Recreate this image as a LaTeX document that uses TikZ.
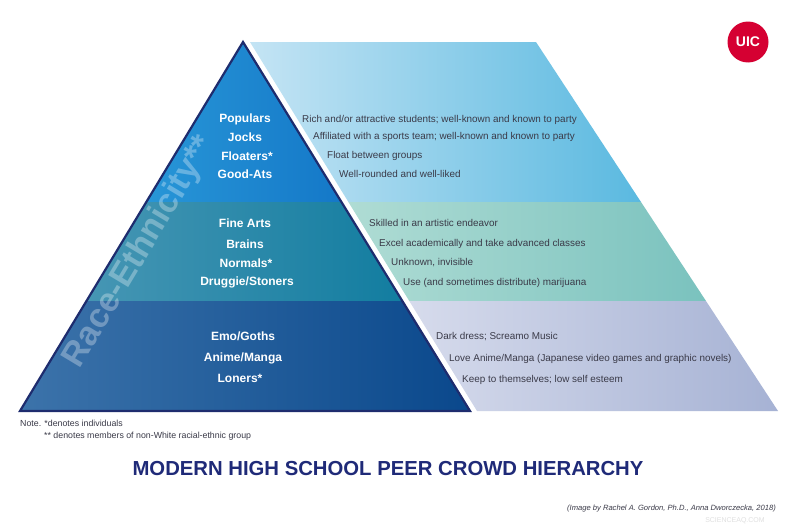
\documentclass[tikz,border=0pt]{standalone}
\usepackage{fontspec}
\setmainfont{Liberation Sans}
\definecolor{navy}{HTML}{1F2A78}
\definecolor{tri}{HTML}{1E2C6E}
\definecolor{lab}{HTML}{3A3A48}
\begin{document}
\begin{tikzpicture}[x=1pt,y=-1pt,
  crowd/.style={font=\bfseries\fontsize{12}{14}\selectfont, text=white, anchor=center},
  desc/.style={font=\fontsize{9.9}{11}\selectfont, text=lab, anchor=west, inner sep=0pt},
  note/.style={font=\fontsize{8.8}{10}\selectfont, text=lab, anchor=west, inner sep=0pt}]
\useasboundingbox (0,0) rectangle (800,530);
\fill[white] (0,0) rectangle (800,530);
% right trapezoid bands
\shade[left color={rgb,255:red,196;green,228;blue,244}, right color={rgb,255:red,90;green,185;blue,224}]
  (250,42) -- (536,42) -- (641,202) -- (348.4,202) -- cycle;
\shade[left color={rgb,255:red,175;green,220;blue,212}, right color={rgb,255:red,122;green,194;blue,190}]
  (348.4,202) -- (641,202) -- (706,301) -- (409.3,301) -- cycle;
\shade[left color={rgb,255:red,214;green,219;blue,236}, right color={rgb,255:red,166;green,178;blue,212}]
  (409.3,301) -- (706,301) -- (778,411) -- (477,411) -- cycle;
% triangle bands
\shade[left color={rgb,255:red,40;green,150;blue,215}, right color={rgb,255:red,20;green,120;blue,200}]
  (243,42) -- (341.4,202) -- (146.3,202) -- cycle;
\shade[left color={rgb,255:red,70;green,150;blue,180}, right color={rgb,255:red,18;green,125;blue,160}]
  (146.3,202) -- (341.4,202) -- (402.3,301) -- (86.5,301) -- cycle;
\shade[left color={rgb,255:red,60;green,115;blue,170}, right color={rgb,255:red,10;green,72;blue,140}]
  (86.5,301) -- (402.3,301) -- (470,411) -- (20,411) -- cycle;
\draw[tri, line width=2.2pt, line join=miter] (243,42) -- (470,411) -- (20,411) -- cycle;
% watermark text
\node[rotate=59, text=white, opacity=0.3, font=\bfseries\fontsize{34}{36}\selectfont] (race) at (140,252) {Race-Ethnicity**};
% crowds
\node[crowd] (pop) at (245,119) {Populars};
\node[crowd] (joc) at (245,137) {Jocks};
\node[crowd] (flo) at (247,156) {Floaters*};
\node[crowd] (goo) at (245,174) {Good-Ats};
\node[crowd] (fin) at (245,223) {Fine Arts};
\node[crowd] (bra) at (245,244) {Brains};
\node[crowd] (nor) at (246,263) {Normals*};
\node[crowd] (dru) at (247,282) {Druggie/Stoners};
\node[crowd] (emo) at (243,336) {Emo/Goths};
\node[crowd] (ani) at (243,358) {Anime/Manga};
\node[crowd] (lon) at (240,378) {Loners*};
% descriptions
\node[desc] (d1) at (302,120) {Rich and/or attractive students; well-known and known to party};
\node[desc] (d2) at (313,137) {Affiliated with a sports team; well-known and known to party};
\node[desc] (d3) at (327,156) {Float between groups};
\node[desc] (d4) at (339,174) {Well-rounded and well-liked};
\node[desc] (d5) at (369,223) {Skilled in an artistic endeavor};
\node[desc] (d6) at (379,244) {Excel academically and take advanced classes};
\node[desc] (d7) at (391,263) {Unknown, invisible};
\node[desc] (d8) at (403,283) {Use (and sometimes distribute) marijuana};
\node[desc] (d9) at (436,337) {Dark dress; Screamo Music};
\node[desc] (d10) at (449,359) {Love Anime/Manga (Japanese video games and graphic novels)};
\node[desc] (d11) at (462,380) {Keep to themselves; low self esteem};
% notes
\node[note] (n1) at (20,423) {Note. *denotes individuals};
\node[note] (n2) at (44,436) {** denotes members of non-White racial-ethnic group};
% title
\node[text=navy, font=\bfseries\fontsize{20.3}{23}\selectfont, inner sep=0pt] (title) at (388,469) {MODERN HIGH SCHOOL PEER CROWD HIERARCHY};
\node[text=lab, font=\itshape\fontsize{7.6}{9}\selectfont, anchor=east, inner sep=0pt] (credit) at (776,509) {(Image by Rachel A. Gordon, Ph.D., Anna Dworczecka, 2018)};
\node[text=black!12, font=\fontsize{7}{8}\selectfont, inner sep=0pt] (wm) at (735,521) {SCIENCEAQ.COM};
% logo
\node[circle, fill={rgb,255:red,213;green,0;blue,50}, minimum size=41pt, inner sep=0pt, text=white, font=\bfseries\fontsize{14}{15}\selectfont] (uic) at (748,42) {UIC};
\end{tikzpicture}
\end{document}
